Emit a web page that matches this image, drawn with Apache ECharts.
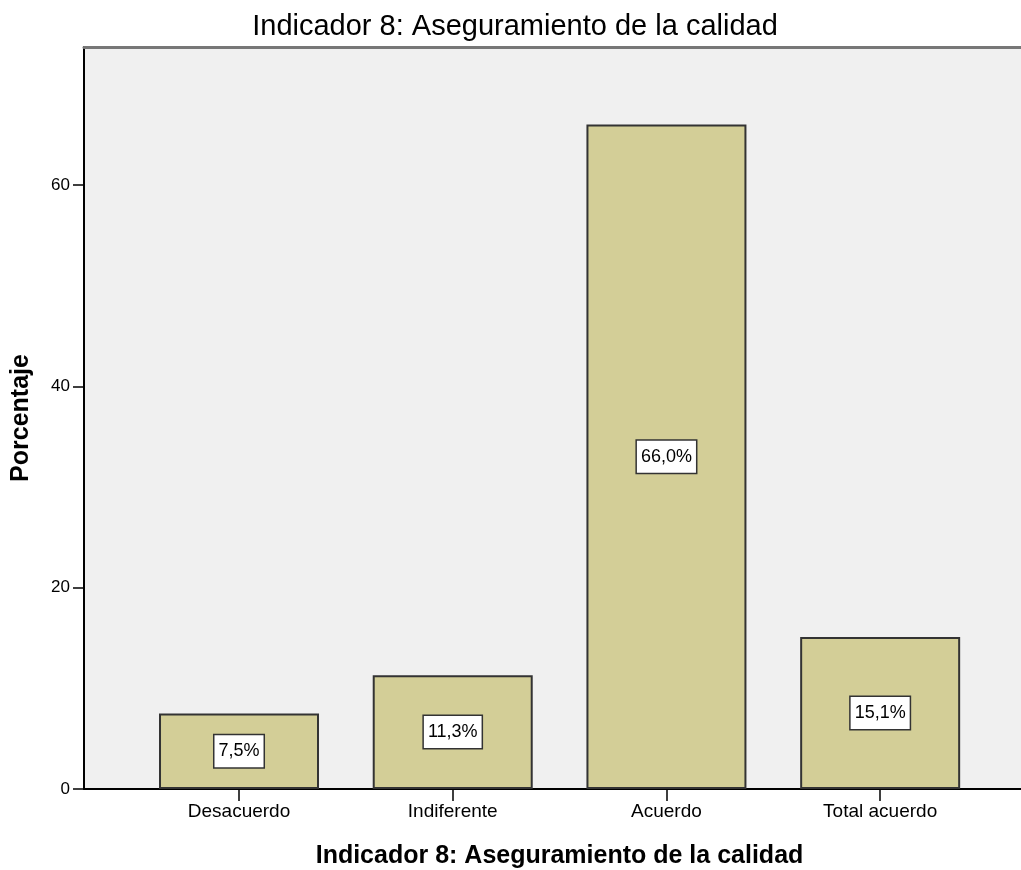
<!DOCTYPE html>
<html>
<head>
<meta charset="utf-8">
<script src="https://cdn.jsdelivr.net/npm/echarts@6/dist/echarts.min.js"></script>
<style>
  html, body { margin: 0; padding: 0; background: #fff; }
  #chart { width: 1021px; height: 870px; }
</style>
</head>
<body>
<div id="chart"></div>
<script>
const categories = ['Desacuerdo', 'Indiferente', 'Acuerdo', 'Total acuerdo']
const percentages = [7.5, 11.3, 66.0, 15.1]
const yTicks = [0, 20, 40, 60]

const titleText = 'Indicador 8: Aseguramiento de la calidad'
const sans = '"Liberation Sans", Arial, sans-serif'

const chart = echarts.init(document.getElementById('chart'))

// categories sit at 1..4 on a numeric x axis so the plot can be off-centre like the original
const barData = percentages.map((v, i) => [i + 1, v])

chart.setOption({
  animation: false,
  backgroundColor: '#ffffff',
  title: {
    text: titleText,
    left: 510,
    textAlign: 'center',
    top: 7,
    textStyle: { fontFamily: sans, fontSize: 29, fontWeight: 'normal', color: '#000' }
  },
  grid: {
    left: 84,
    right: 0,
    top: 47,
    bottom: 81,
    outerBoundsMode: 'none',
    containLabel: false,
    show: true,
    backgroundColor: '#f0f0f0',
    borderWidth: 0
  },
  xAxis: [
    {
      type: 'value',
      min: 0.2747,
      max: 4.659,
      name: titleText,
      nameLocation: 'middle',
      nameGap: 55,
      nameTextStyle: { fontFamily: sans, fontSize: 25, fontWeight: 'bold', color: '#000', padding: [0, 0, 0, 14] },
      splitLine: { show: false },
      axisLine: { show: true, lineStyle: { color: '#000', width: 2 } },
      axisTick: { show: true, customValues: [1, 2, 3, 4], length: 12, lineStyle: { color: '#000', width: 1.5 } },
      axisLabel: {
        customValues: [1, 2, 3, 4],
        formatter: v => categories[Math.round(v) - 1] || '',
        fontFamily: sans,
        fontSize: 19,
        color: '#000',
        margin: 13
      }
    },
    {
      type: 'value',
      position: 'top',
      min: 0.2747,
      max: 4.659,
      axisLine: { show: true, lineStyle: { color: '#777', width: 3 } },
      axisTick: { show: false },
      axisLabel: { show: false },
      splitLine: { show: false }
    }
  ],
  yAxis: {
    type: 'value',
    min: 0,
    max: 73.7,
    interval: 20,
    name: 'Porcentaje',
    nameLocation: 'middle',
    nameGap: 50,
    nameTextStyle: { fontFamily: sans, fontSize: 25, fontWeight: 'bold', color: '#000' },
    splitLine: { show: false },
    axisLine: { show: true, lineStyle: { color: '#000', width: 2 } },
    axisTick: { show: true, length: 11, lineStyle: { color: '#000', width: 1.5 } },
    axisLabel: {
      showMaxLabel: false,
      formatter: v => (yTicks.includes(v) ? String(v) : ''),
      fontFamily: sans,
      fontSize: 17,
      color: '#000',
      margin: 14
    }
  },
  series: [
    {
      type: 'bar',
      xAxisIndex: 0,
      data: barData,
      barWidth: 160,
      itemStyle: { color: '#d3ce97', borderColor: '#333', borderWidth: 2 },
      label: {
        show: true,
        position: 'inside',
        formatter: p => p.value[1].toFixed(1).replace('.', ',') + '%',
        fontFamily: sans,
        fontSize: 18,
        lineHeight: 20,
        color: '#000',
        backgroundColor: '#fff',
        borderColor: '#333',
        borderWidth: 1.5,
        padding: [6, 4, 6, 4]
      }
    }
  ]
})
</script>
</body>
</html>
